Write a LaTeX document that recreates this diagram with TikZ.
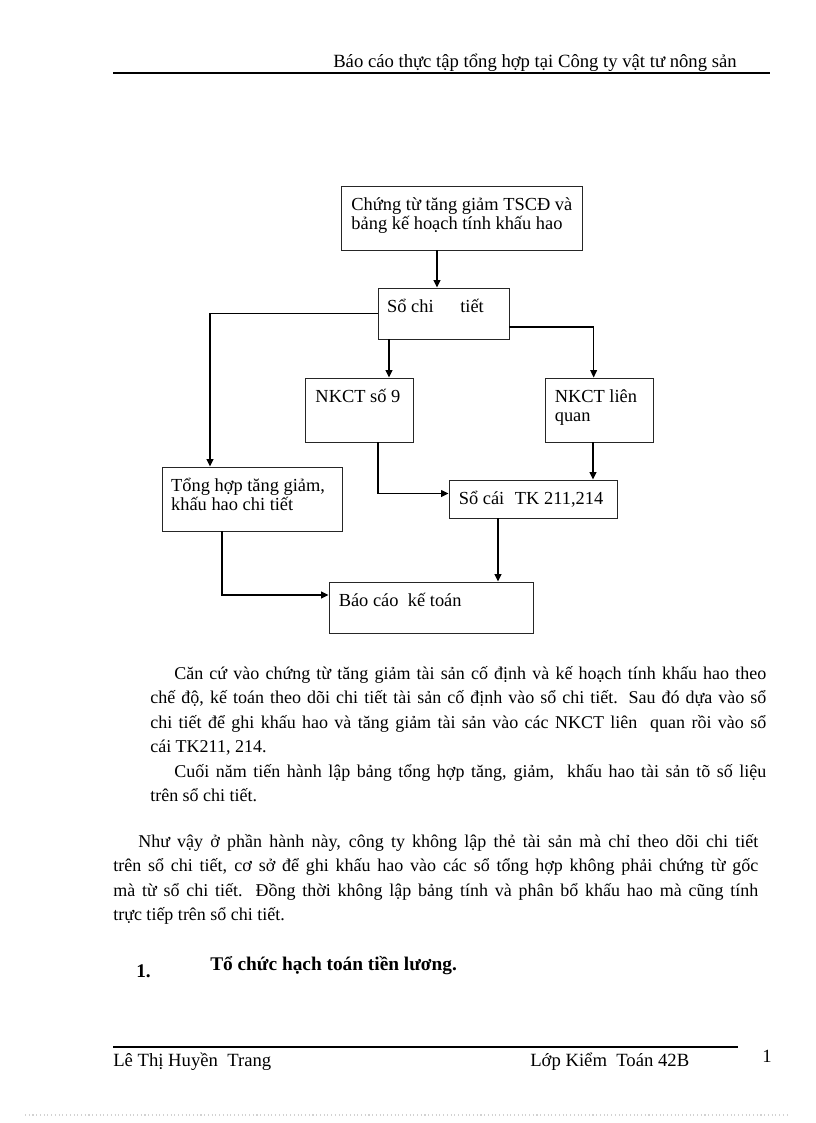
\documentclass[tikz,border=0pt]{standalone}
\usepackage{fontspec}
\setmainfont{Liberation Serif}
\usetikzlibrary{arrows.meta,fit}

\tikzset{
  khung/.style={draw=black!85, line width=0.7pt, inner sep=0pt},
  chu/.style={anchor=base west, align=left, inner sep=0pt, font=\fontsize{13.8}{14.3}\selectfont},
  muiten/.style={line width=1.1pt, -{Triangle[length=5.5pt,width=5pt]}},
  doan/.style={anchor=base west, inner sep=0pt, align=justify, font=\fontsize{13.5}{18.4}\selectfont},
  dong/.style={anchor=base west, inner sep=0pt, font=\fontsize{14}{15}\selectfont},
}

\begin{document}
\begin{tikzpicture}[x=0.75pt,y=-0.75pt]
  \useasboundingbox (0,0) rectangle (816,1123);

  % header
  \node[dong] (tieude) at (333,68) {Báo cáo thực tập tổng hợp tại Công ty vật tư nông sản};
  \draw[line width=0.9pt] (113,73) -- (770,73);

  % boxes
  \node[khung, fit={(341,186) (582,250)},
        label={[chu, xshift=8pt, yshift=-32.8pt]north west:Chứng từ tăng giảm TSCĐ và\\bảng kế hoạch tính khấu hao}] (chungtu) {};
  \node[khung, fit={(378,288) (509,339)},
        label={[chu, xshift=7pt, yshift=-18.5pt]north west:Sổ chi\hspace{20pt}tiết}] (sochitiet) {};
  \node[khung, fit={(305,378) (413,442)},
        label={[chu, xshift=8pt, yshift=-18.5pt]north west:NKCT số 9}] (nkct9) {};
  \node[khung, fit={(545,378) (653,442)},
        label={[chu, xshift=7.5pt, yshift=-32.8pt]north west:NKCT liên\\quan}] (nkctlq) {};
  \node[khung, fit={(162,467) (342,531)},
        label={[chu, xshift=7pt, yshift=-32.8pt]north west:Tổng hợp tăng giảm,\\khấu hao chi tiết}] (tonghop) {};
  \node[khung, fit={(449,480) (617,518)},
        label={[chu, xshift=7.5pt, yshift=-18.5pt]north west:Sổ cái\hspace{8pt}TK 211,214}] (socai) {};
  \node[khung, fit={(329,582) (533,633)},
        label={[chu, xshift=7.5pt, yshift=-18.5pt]north west:Báo cáo\hspace{7pt}kế toán}] (baocao) {};

  % arrows
  \draw[muiten] ([xshift=-4.9pt]sochitiet.north |- chungtu.south) -- ([xshift=-4.9pt]sochitiet.north);
  \draw[muiten] (sochitiet.west) -| ([xshift=-31.5pt]tonghop.north);
  \draw[muiten] ([yshift=-10pt]sochitiet.east) -| ([xshift=-4pt]nkctlq.north);
  \draw[muiten] ([xshift=-40.9pt]sochitiet.south) -- ([xshift=-40.9pt]sochitiet.south |- nkct9.north);
  \draw[muiten] ([xshift=14.25pt]nkct9.south) |- ([yshift=4.1pt]socai.west);
  \draw[muiten] ([xshift=-4.5pt]nkctlq.south) -- ([xshift=-4.5pt]nkctlq.south |- socai.north);
  \draw[muiten] ([xshift=-26.25pt]socai.south) -- ([xshift=-26.25pt]socai.south |- baocao.north);
  \draw[muiten] ([xshift=-22.5pt]tonghop.south) |- ([yshift=9.4pt]baocao.west);

  % text
  \node[doan, text width=462pt] (doan1) at (150,679) {\hspace*{18pt}Căn cứ vào chứng từ tăng giảm tài sản cố định và kế hoạch tính khấu hao theo\linebreak
    chế độ, kế toán theo dõi chi tiết tài sản cố định vào sổ chi tiết. Sau đó dựa vào sổ\linebreak
    chi tiết để ghi khấu hao và tăng giảm tài sản vào các NKCT liên\ \ quan rồi vào sổ\linebreak
    cái TK211, 214.\par
    \hspace*{18pt}Cuối năm tiến hành lập bảng tổng hợp tăng, giảm,\ \ khấu hao tài sản tõ số liệu\linebreak
    trên sổ chi tiết.};
  \node[doan, text width=483.75pt] (doan2) at (113,847) {\hspace*{18.75pt}Như vậy ở phần hành này, công ty không lập thẻ tài sản mà chỉ theo dõi chi tiết\linebreak
    trên sổ chi tiết, cơ sở để ghi khấu hao vào các sổ tổng hợp không phải chứng từ gốc\linebreak
    mà từ sổ chi tiết. Đồng thời không lập bảng tính và phân bổ khấu hao mà cũng tính\linebreak
    trực tiếp trên sổ chi tiết.};

  \node[dong, font=\fontsize{14.5}{15}\selectfont\bfseries] (so1) at (136,977) {1.};
  \node[dong, font=\fontsize{14.5}{15}\selectfont\bfseries] (muc1) at (210,970) {Tổ chức hạch toán tiền lương.};

  % footer
  \draw[line width=0.9pt] (113,1047) -- (738,1047);
  \node[dong] (tacgia) at (113,1066) {Lê Thị Huyền\ \ Trang};
  \node[dong] (lop) at (530,1066) {Lớp Kiểm\ \ Toán 42B};
  \node[dong] (trang) at (762,1062) {1};
  \draw[gray!35, dotted, line width=0.8pt] (25,1115) -- (790,1115);
\end{tikzpicture}
\end{document}
